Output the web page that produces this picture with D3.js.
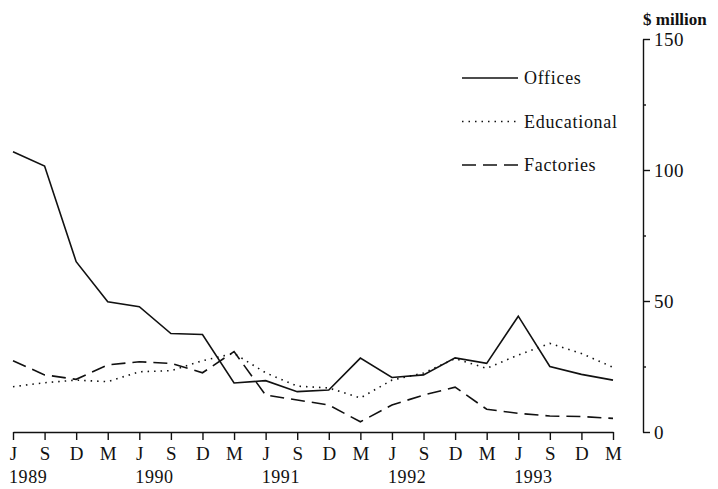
<!DOCTYPE html>
<html>
<head>
<meta charset="utf-8">
<script src="https://cdn.jsdelivr.net/npm/d3@7"></script>
<style>
  body { margin: 0; background: #fff; }
  text { font-family: "Liberation Serif", "DejaVu Serif", serif; fill: #111; }
  .axis path, .axis line { stroke: #111; stroke-width: 1.4; }
</style>
</head>
<body>
<div id="chart"></div>
<script>
// quarters from June 1989 to March 1994
var months = ["J", "S", "D", "M", "J", "S", "D", "M", "J", "S", "D", "M", "J", "S", "D", "M", "J", "S", "D", "M"];
var years = [{i: 0, label: "1989"}, {i: 4, label: "1990"}, {i: 8, label: "1991"}, {i: 12, label: "1992"}, {i: 16, label: "1993"}];

// values in $ million
var offices = [107, 101.5, 65, 49.7, 47.8, 37.6, 37.2, 18.7, 19.6, 15.4, 16, 28.2, 20.8, 21.8, 28.3, 26.2, 44.2, 25, 22, 19.8];
var educational = [17.3, 18.8, 19.8, 19.2, 23, 23.4, 27.2, 30, 22.6, 17.5, 16.8, 13, 19.8, 22.5, 28, 24.3, 29.4, 33.8, 30, 24.7];
var factories = [27.2, 21.8, 20.1, 25.6, 26.8, 26.2, 22.6, 30.7, 14.1, 12.2, 10.3, 3.9, 10.3, 14.1, 17.1, 8.7, 7.1, 6.1, 5.9, 5.2];

var yTicks = [0, 50, 100, 150];
var yMinor = [25, 75, 125];

var series = [
    {name: "Offices", values: offices, dash: null},
    {name: "Educational", values: educational, dash: "1.5,5"},
    {name: "Factories", values: factories, dash: "14,7"}
];

// set the dimensions and margins of the graph
var margin = {top: 39, right: 105, bottom: 57, left: 13},
    width = 718 - margin.left - margin.right,
    height = 489 - margin.top - margin.bottom;

var x = d3.scalePoint()
    .domain(d3.range(months.length))
    .range([0, width]);
var y = d3.scaleLinear()
    .domain([0, 150])
    .range([height, 0]);

var svg = d3.select("#chart").append("svg")
    .attr("width", width + margin.left + margin.right)
    .attr("height", height + margin.top + margin.bottom)
    .append("g")
    .attr("transform", "translate(" + margin.left + "," + margin.top + ")");

// x axis
var xAxis = svg.append("g")
    .attr("class", "axis")
    .attr("transform", "translate(0," + height + ")")
    .call(d3.axisBottom(x)
        .tickSize(8)
        .tickSizeOuter(0)
        .tickPadding(7)
        .tickFormat(function(i) { return months[i]; }));
xAxis.selectAll("text").style("font-size", "19px");

// year labels under each June
svg.selectAll(".year")
    .data(years)
    .enter().append("text")
    .attr("class", "year")
    .attr("x", function(d) { return x(d.i) - 4; })
    .attr("y", height + 51)
    .style("font-size", "18px")
    .style("letter-spacing", "0.6px")
    .text(function(d) { return d.label; });

// right y axis
var yAxis = svg.append("g")
    .attr("class", "axis")
    .attr("transform", "translate(" + (width + 30) + ",0)")
    .call(d3.axisRight(y)
        .tickValues(yTicks)
        .tickSize(7)
        .tickSizeOuter(0)
        .tickPadding(4));
yAxis.selectAll("text")
    .style("font-size", "19px")
    .style("letter-spacing", "0.5px");

svg.append("g")
    .attr("class", "axis")
    .attr("transform", "translate(" + (width + 30) + ",0)")
    .call(d3.axisRight(y)
        .tickValues(yMinor)
        .tickSize(3)
        .tickFormat(""))
    .select(".domain").remove();

// unit label
svg.append("text")
    .attr("x", width + 30)
    .attr("y", -14)
    .style("font-size", "17px")
    .style("font-weight", "bold")
    .text("$ million");

// lines
var line = d3.line()
    .x(function(d, i) { return x(i); })
    .y(function(d) { return y(d); });

series.forEach(function(s) {
    svg.append("path")
        .datum(s.values)
        .attr("fill", "none")
        .attr("stroke", "#111")
        .attr("stroke-width", 1.6)
        .attr("stroke-dasharray", s.dash)
        .attr("d", line);
});

// legend
var legend = svg.selectAll(".legend")
    .data(series)
    .enter().append("g")
    .attr("class", "legend")
    .attr("transform", function(d, i) { return "translate(449," + (39 + i * 43.5) + ")"; });

legend.append("line")
    .attr("x1", 0)
    .attr("x2", 56)
    .attr("stroke", "#111")
    .attr("stroke-width", 1.6)
    .attr("stroke-dasharray", function(d) { return d.dash; });

legend.append("text")
    .attr("x", 62)
    .attr("y", 6)
    .style("font-size", "18px")
    .style("letter-spacing", "0.7px")
    .text(function(d) { return d.name; });
</script>
</body>
</html>
